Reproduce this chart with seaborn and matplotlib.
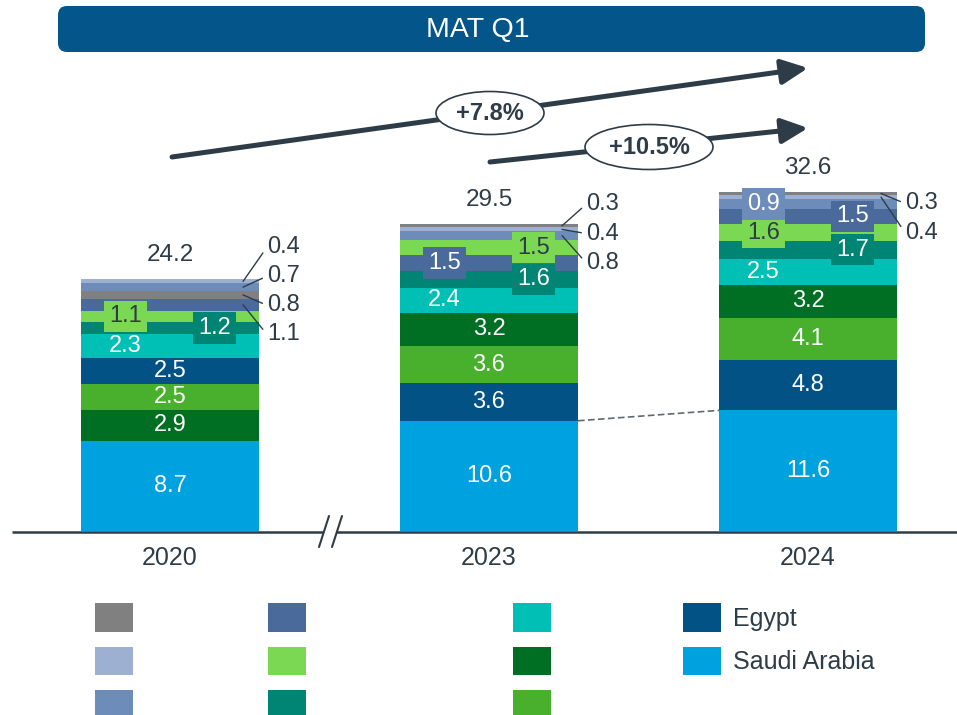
import numpy as np
import pandas as pd
import matplotlib
matplotlib.use("Agg")
import matplotlib.pyplot as plt
import seaborn as sns
from matplotlib.patches import FancyBboxPatch, Ellipse, Patch

# ---- data -------------------------------------------------------------
years = ["2020", "2023", "2024"]

series = ["grey", "pale_blue", "mid_blue", "slate", "lime",
          "dark_teal", "teal", "dark_green", "green", "egypt", "saudi"]
legend_labels = ["", "", "", "", "", "", "", "", "", "Egypt", "Saudi Arabia"]
colors = ["#808080", "#9eb0d1", "#6e8cba", "#4a6a9c", "#7bd853",
          "#008575", "#00bfb4", "#006f23", "#48b02c", "#025286", "#00a1df"]

grey_vals = [0.8, 0.3, 0.3]
pale_blue_vals = [0.4, 0.4, 0.4]
mid_blue_vals = [0.7, 0.8, 0.9]
slate_vals = [1.1, 1.5, 1.5]
lime_vals = [1.1, 1.5, 1.6]
dark_teal_vals = [1.2, 1.6, 1.7]
teal_vals = [2.3, 2.4, 2.5]
dark_green_vals = [2.9, 3.2, 3.2]
green_vals = [2.5, 3.6, 4.1]
egypt_vals = [2.5, 3.6, 4.8]
saudi_vals = [8.7, 10.6, 11.6]

totals = [24.2, 29.5, 32.6]
growth_labels = ["+7.8%", "+10.5%"]

# stacking order inside each bar (bottom -> top)
stack_order = {
    "2020": ["saudi", "dark_green", "green", "egypt", "teal", "dark_teal",
             "lime", "slate", "grey", "mid_blue", "pale_blue"],
    "2023": ["saudi", "egypt", "green", "dark_green", "teal", "dark_teal",
             "slate", "lime", "mid_blue", "pale_blue", "grey"],
    "2024": ["saudi", "egypt", "green", "dark_green", "teal", "dark_teal",
             "lime", "slate", "mid_blue", "pale_blue", "grey"],
}

# where the value label goes: c=centre, l=left, r=right, s=outside with leader
label_mode = {
    "2020": {"saudi": "c", "dark_green": "c", "green": "c", "egypt": "c",
             "teal": "l", "dark_teal": "r", "lime": "l", "slate": "s",
             "grey": "s", "mid_blue": "s", "pale_blue": "s"},
    "2023": {"saudi": "c", "egypt": "c", "green": "c", "dark_green": "c",
             "teal": "l", "dark_teal": "r", "slate": "l", "lime": "r",
             "mid_blue": "s", "pale_blue": "s", "grey": "s"},
    "2024": {"saudi": "c", "egypt": "c", "green": "c", "dark_green": "c",
             "teal": "l", "dark_teal": "r", "lime": "l", "slate": "r",
             "mid_blue": "l", "pale_blue": "s", "grey": "s"},
}
side_start = {"2020": 3.1, "2023": 1.9, "2024": -1.1}

values = dict(zip(series, [grey_vals, pale_blue_vals, mid_blue_vals, slate_vals,
                           lime_vals, dark_teal_vals, teal_vals, dark_green_vals,
                           green_vals, egypt_vals, saudi_vals]))
color_of = dict(zip(series, colors))

DARK = "#2e3c47"

# ---- figure -----------------------------------------------------------
sns.set_style("white")
plt.rcParams["font.family"] = ["Liberation Sans", "DejaVu Sans"]

fig = plt.figure(figsize=(9.57, 7.15), dpi=100)
PX = 10.4  # pixels per unit
ax = fig.add_axes([0, 184 / 715, 1, 531 / 715])
bar_w = 178 / 319

# segment bounds
seg = {}
for j, yr in enumerate(years):
    cum = 0.0
    for key in stack_order[yr]:
        seg[(yr, key)] = (cum, cum + values[key][j])
        cum += values[key][j]

# stacked bars: draw cumulative tops from the highest layer downwards
n_layers = len(series)
for lvl in range(n_layers - 1, -1, -1):
    tops = [seg[(yr, stack_order[yr][lvl])][1] for yr in years]
    cols = [color_of[stack_order[yr][lvl]] for yr in years]
    df = pd.DataFrame({"year": years, "top": tops})
    sns.barplot(data=df, x="year", y="top", hue="year", order=years,
                hue_order=years, palette=cols, width=bar_w, saturation=1,
                errorbar=None, legend=False, linewidth=0, ax=ax)

# value labels
for j, yr in enumerate(years):
    side_keys = []
    for key in stack_order[yr]:
        lo, hi = seg[(yr, key)]
        v = values[key][j]
        mode = label_mode[yr][key]
        if mode == "s":
            side_keys.append(key)
            continue
        dx = {"c": 0, "l": -bar_w / 4, "r": bar_w / 4}[mode]
        tc = DARK if key == "lime" else "white"
        box = None
        if v < 2:
            box = dict(boxstyle="square,pad=0.2", fc=color_of[key], ec="none")
        ax.text(j + dx, (lo + hi) / 2, f"{v:.1f}", ha="center", va="center",
                fontsize=17, color=tc, bbox=box)
    for k, key in enumerate(reversed(side_keys)):
        lo, hi = seg[(yr, key)]
        ty = totals[j] + side_start[yr] - k * 2.8
        ax.annotate(f"{values[key][j]:.1f}", xy=(j + bar_w / 2 - 0.05, (lo + hi) / 2),
                    xytext=(j + bar_w / 2 + 0.025, ty), ha="left", va="center",
                    fontsize=17, color=DARK,
                    arrowprops=dict(arrowstyle="-", color=DARK, lw=1,
                                    shrinkA=1, shrinkB=0, relpos=(0, 0.5)))
    ax.text(j, totals[j] + 2.3, f"{totals[j]:.1f}", ha="center", va="center",
            fontsize=17.5, color=DARK)

# dashed link between Saudi Arabia tops
ax.plot([1 + bar_w / 2, 2 - bar_w / 2], [saudi_vals[1], saudi_vals[2]],
        ls=(0, (4, 2)), color="#5d6a73", lw=1.2)

ax.set_xlim(-170 / 319, (957 - 170) / 319)
ax.set_ylim(0, 531 / PX)
ax.set_xticks(range(len(years)))
ax.set_xticklabels(years, fontsize=18, color=DARK)
ax.tick_params(axis="x", length=0, pad=11)
ax.set_yticks([])
ax.set_xlabel("")
ax.set_ylabel("")
for sp in ax.spines.values():
    sp.set_visible(False)

# ---- overlay in pixel coordinates for the decorations -----------------
ov = fig.add_axes([0, 0, 1, 1], zorder=5)
ov.set_xlim(0, 957)
ov.set_ylim(715, 0)
ov.axis("off")

ov.add_patch(FancyBboxPatch((58, 6), 867, 46, boxstyle="round,pad=0,rounding_size=9",
                            fc="#03558a", ec="none"))
ov.text(478, 30, "MAT Q1", ha="center", va="center", fontsize=20.5, color="white")

# baseline with axis break
ov.plot([12, 323], [531.5, 531.5], color=DARK, lw=1.8, solid_capstyle="butt")
ov.plot([336, 957], [531.5, 531.5], color=DARK, lw=1.8, solid_capstyle="butt")
ov.plot([319, 329], [547, 516], color=DARK, lw=1.5)
ov.plot([332, 342], [547, 516], color=DARK, lw=1.5)

# growth arrows
arrow_kw = dict(arrowstyle="-|>,head_length=0.8,head_width=0.38", color=DARK,
                lw=3.6, shrinkA=0, shrinkB=0, mutation_scale=20)
ov.annotate("", xy=(808, 68), xytext=(172, 157), arrowprops=arrow_kw)
ov.annotate("", xy=(808, 128), xytext=(490, 162), arrowprops=arrow_kw)
for (cx, cy, w, h), lab in zip([(490, 113, 108, 43), (649, 147, 128, 45)], growth_labels):
    ov.add_patch(Ellipse((cx, cy), w, h, fc="white", ec=DARK, lw=1.2, zorder=3))
    ov.text(cx, cy, lab, ha="center", va="center", fontsize=17,
            fontweight="bold", color=DARK, zorder=4)

# legend, one column at a time
col_x = [95, 268, 513, 683]
for c in range(4):
    idx = list(range(c * 3, min(c * 3 + 3, len(series))))
    handles = [Patch(facecolor=colors[i], edgecolor="none") for i in idx]
    labs = [legend_labels[i] if legend_labels[i] else " " for i in idx]
    fig.legend(handles, labs, loc="upper left",
               bbox_to_anchor=(col_x[c] / 957, 1 - 603 / 715), frameon=False,
               fontsize=18, handlelength=1.52, handleheight=1.38,
               labelspacing=0.6, handletextpad=0.48, borderpad=0,
               borderaxespad=0, labelcolor=DARK)

fig.savefig("out.png", dpi=100)
